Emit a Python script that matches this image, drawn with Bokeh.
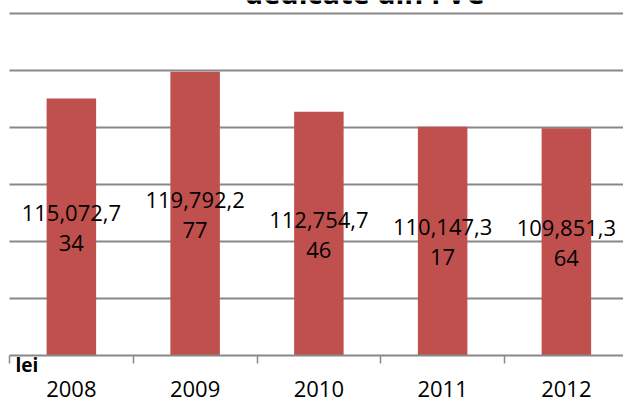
from bokeh.plotting import figure
from bokeh.models import Range1d, FixedTicker, ColumnDataSource
from bokeh.core.properties import value
from bokeh.embed import file_html
from bokeh.resources import INLINE

years = ["2008", "2009", "2010", "2011", "2012"]
amounts = [115072734, 119792277, 112754746, 110147317, 109851364]
label_texts = ["115,072,7\n34", "119,792,2\n77", "112,754,7\n46", "110,147,3\n17", "109,851,3\n64"]
title_text = "dedicate din FVC"
unit_text = "lei"

y_min, y_max, y_step = 70000000, 130000000, 10000000

# layout (pixels)
W, H = 623, 400
PLOT_LEFT = 9           # left edge of the category area
AXIS_Y = 355            # pixel row of the category axis
CAT_W = 123.75          # pixel width of one category
PX_PER_STEP = 57.0      # pixel height of one grid step

px_per_val = PX_PER_STEP / y_step
x_start = -0.5 - PLOT_LEFT / CAT_W
x_end = -0.5 + (W - PLOT_LEFT) / CAT_W
y_start = y_min - (H - AXIS_Y) / px_per_val
y_end = y_min + AXIS_Y / px_per_val

xs = list(range(len(years)))
label_y = [(y_min + a) / 2 for a in amounts]
src = ColumnDataSource(dict(x=xs, top=amounts, ly=label_y, txt=label_texts))

p = figure(frame_width=W, frame_height=H, output_backend="svg", toolbar_location=None,
           x_range=Range1d(x_start, x_end), y_range=Range1d(y_start, y_end),
           min_border=0, min_border_top=0, min_border_left=0, min_border_right=0, min_border_bottom=0)
p.outline_line_color = None
p.background_fill_color = "white"
p.border_fill_color = "white"
p.grid.visible = False
p.yaxis.visible = False

# horizontal gridlines across the category area
grid_vals = list(range(y_min + y_step, y_max + 1, y_step))
p.segment(x0=[-0.5] * len(grid_vals), x1=[x_end] * len(grid_vals), y0=grid_vals, y1=grid_vals,
          line_color="#888888", line_width=2)

p.vbar(x="x", top="top", bottom=y_min, width=0.4, source=src, fill_color="#C0504D", line_color=None)
p.text(x="x", y="ly", text="txt", source=src, text_align="center", text_baseline="middle",
       text_font=value("Open Sans"), text_font_size="22px", text_color="black", text_line_height=1.0)

ax = p.xaxis[0]
ax.fixed_location = y_min
ax.bounds = (-0.5, x_end)
ax.ticker = FixedTicker(ticks=xs, minor_ticks=[i - 0.5 for i in range(len(years) + 1)])
ax.major_label_overrides = {i: y for i, y in enumerate(years)}
ax.major_tick_line_color = None
ax.major_tick_out = 0
ax.major_tick_in = 0
ax.minor_tick_out = 8
ax.minor_tick_in = 0
ax.minor_tick_line_color = "#888888"
ax.minor_tick_line_width = 1.5
ax.axis_line_color = "#888888"
ax.axis_line_width = 2
ax.major_label_text_font = "Open Sans"
ax.major_label_text_font_size = "22px"
ax.major_label_text_color = "black"
ax.major_label_standoff = 17

# chart title (only its lower part is inside the picture) and unit label
title_px_x, title_px_base = 364, -8.5
p.text(x=[x_start + title_px_x / CAT_W], y=[y_end - title_px_base / px_per_val], text=[title_text],
       text_align="center", text_baseline="alphabetic", text_font=value("Open Sans"),
       text_font_style="bold", text_font_size="29px", text_color="black")
lei_px_x, lei_px_base = 15, 364
p.text(x=[x_start + lei_px_x / CAT_W], y=[y_end - lei_px_base / px_per_val], text=[unit_text],
       text_align="left", text_baseline="alphabetic", text_font=value("Open Sans"),
       text_font_style="bold", text_font_size="19px", text_color="black")

open("out.html", "w").write(file_html(p, INLINE))
